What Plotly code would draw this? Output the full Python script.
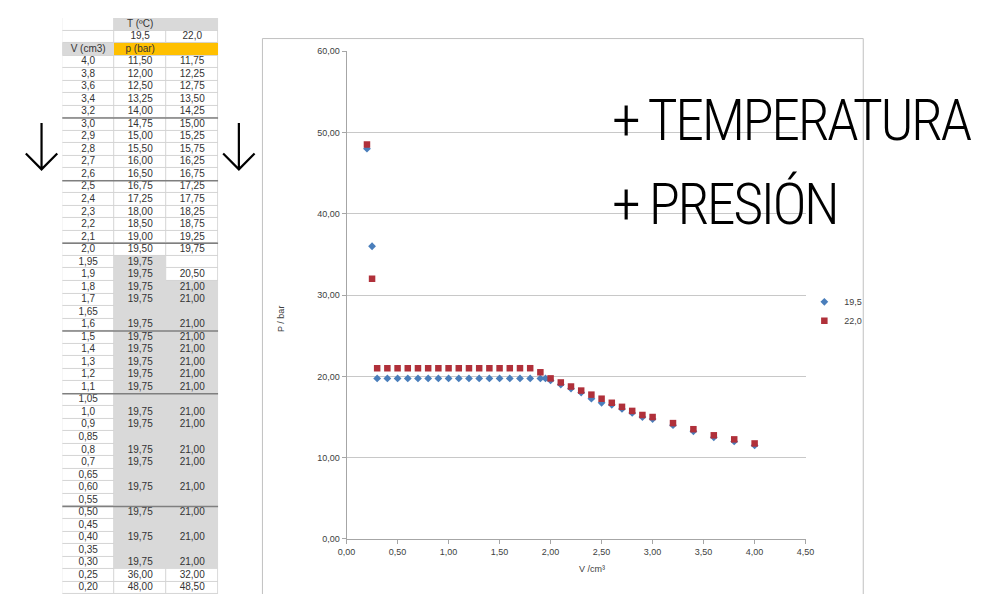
import plotly.graph_objects as go

W, H = 985, 594

# ---------------- data ----------------
V_labels = ["4,0", "3,8", "3,6", "3,4", "3,2", "3,0", "2,9", "2,8", "2,7", "2,6",
            "2,5", "2,4", "2,3", "2,2", "2,1", "2,0", "1,95", "1,9", "1,8", "1,7",
            "1,65", "1,6", "1,5", "1,4", "1,3", "1,2", "1,1", "1,05", "1,0", "0,9",
            "0,85", "0,8", "0,7", "0,65", "0,60", "0,55", "0,50", "0,45", "0,40", "0,35",
            "0,30", "0,25", "0,20"]
V = [float(s.replace(",", ".")) for s in V_labels]

temps = [19.5, 22.0]

p_195 = [11.50, 12.00, 12.50, 13.25, 14.00, 14.75, 15.00, 15.50, 16.00, 16.50,
         16.75, 17.25, 18.00, 18.50, 19.00, 19.50, 19.75, 19.75, 19.75, 19.75,
         None, 19.75, 19.75, 19.75, 19.75, 19.75, 19.75, None, 19.75, 19.75,
         None, 19.75, 19.75, None, 19.75, None, 19.75, None, 19.75, None,
         19.75, 36.00, 48.00]
p_220 = [11.75, 12.25, 12.75, 13.50, 14.25, 15.00, 15.25, 15.75, 16.25, 16.75,
         17.25, 17.75, 18.25, 18.75, 19.25, 19.75, None, 20.50, 21.00, 21.00,
         None, 21.00, 21.00, 21.00, 21.00, 21.00, 21.00, None, 21.00, 21.00,
         None, 21.00, 21.00, None, 21.00, None, 21.00, None, 21.00, None,
         21.00, 32.00, 48.50]

x_ticks = [0, 0.5, 1.0, 1.5, 2.0, 2.5, 3.0, 3.5, 4.0, 4.5]
y_ticks = [0, 10, 20, 30, 40, 50, 60]

headline = ["+ TEMPERATURA", "+ PRESIÓN"]

# table styling groups
gray_start = {1: "1,95", 2: "1,8"}
gray_end = "0,30"
group_starts = ["3,0", "2,5", "2,0", "1,5", "1,05", "0,50"]

# ---------------- colours / fonts ----------------
BLUE = "#4a7ebb"
RED = "#b0303a"
TXT = "#404040"
FONT = "Liberation Sans, Arial, sans-serif"
GRAY = "#d9d9d9"
YELLOW = "#ffc000"
LINE = "#d4d4d4"


def fmt(v, d=2):
    return "" if v is None else f"{v:.{d}f}".replace(".", ",")


# ---------------- table model ----------------
header_text = [["", "T (ºC)", ""],
               ["", fmt(temps[0], 1), fmt(temps[1], 1)],
               ["V (cm3)", "p (bar)", ""]]
header_fill = [[0, 1, 1], [0, 0, 0], [1, 2, 2]]
n_head = len(header_text)

end_idx = V_labels.index(gray_end)
text_rows = list(header_text)
fill_rows = list(header_fill)
for i, lab in enumerate(V_labels):
    text_rows.append([lab, fmt(p_195[i]), fmt(p_220[i])])
    row = [0]
    for c in (1, 2):
        s = V_labels.index(gray_start[c])
        row.append(1 if s <= i <= end_idx else 0)
    fill_rows.append(row)

R = len(text_rows)
bg_rows = [[3 if f == 0 else f for f in r] for r in fill_rows]
cs = [[0, "#ffffff"], [1 / 3, GRAY], [2 / 3, YELLOW], [1, LINE]]

row_c = [r + 0.5 for r in range(R)]
col_c = [0.5, 1.5, 2.5]

fig = go.Figure()

fig.add_trace(go.Heatmap(z=bg_rows, x=col_c, y=row_c, zmin=0, zmax=3, colorscale=cs,
                         showscale=False, hoverinfo="skip", xaxis="x2", yaxis="y2"))
fig.add_trace(go.Heatmap(z=fill_rows, x=col_c, y=row_c, zmin=0, zmax=3, colorscale=cs,
                         showscale=False, hoverinfo="skip", xgap=1, ygap=1,
                         xaxis="x2", yaxis="y2"))

tx, ty, tt = [], [], []
for r in range(R):
    for c in range(3):
        if text_rows[r][c]:
            tx.append(col_c[c])
            ty.append(row_c[r])
            tt.append(text_rows[r][c])
fig.add_trace(go.Scatter(x=tx, y=ty, text=tt, mode="text", textposition="middle center",
                         textfont=dict(family=FONT, size=10, color="#333333"),
                         hoverinfo="skip", showlegend=False, xaxis="x2", yaxis="y2"))

sx, sy = [], []
for g in group_starts:
    r = n_head + V_labels.index(g)
    sx += [0, 3, None]
    sy += [r, r, None]
fig.add_trace(go.Scatter(x=sx, y=sy, mode="lines", line=dict(color="#7f7f7f", width=1.5),
                         hoverinfo="skip", showlegend=False, xaxis="x2", yaxis="y2"))

# ---------------- chart ----------------
fig.add_trace(go.Scatter(x=V, y=p_195, mode="markers", name=fmt(temps[0], 1),
                         marker=dict(symbol="diamond", size=6, color=BLUE,
                                     line=dict(width=0))))
fig.add_trace(go.Scatter(x=V, y=p_220, mode="markers", name=fmt(temps[1], 1),
                         marker=dict(symbol="square", size=6.5, color=RED,
                                     line=dict(width=0))))


def px(x, y):
    return x / W, 1 - y / H


shapes = []
x0, y0 = px(250, 593)
x1, y1 = px(862, 26)
shapes.append(dict(type="rect", xref="paper", yref="paper", x0=x0, y0=y0, x1=x1, y1=y1,
                   line=dict(color="#c0c0c0", width=1), layer="below"))
for cx in (25, 226):
    a = px(cx, 112); b = px(cx, 159); l = px(cx - 16, 143); r_ = px(cx + 16, 143)
    path = (f"M {a[0]},{a[1]} L {b[0]},{b[1]} M {l[0]},{l[1]} L {b[0]},{b[1]} L {r_[0]},{r_[1]}")
    shapes.append(dict(type="path", xref="paper", yref="paper", path=path,
                       line=dict(color="black", width=2.2)))

annotations = []
big_font = dict(family="Roboto Condensed, Roboto, sans-serif", size=58, color="black",
                weight=300)
for txt, yc in zip(headline, (109, 194.5)):
    ax, ay = px(604, yc)
    annotations.append(dict(text=f'<span style="letter-spacing:-2.5px">{txt}</span>',
                            x=ax, y=ay, xref="paper", yref="paper",
                            xanchor="left", yanchor="middle", showarrow=False, font=big_font))

ax, ay = px(262, 311)
annotations.append(dict(text="P / bar", x=ax, y=ay, xref="paper", yref="paper", textangle=-90,
                        showarrow=False, font=dict(family=FONT, size=9, color=TXT)))
ax, ay = px(586, 573)
annotations.append(dict(text="V /cm³", x=ax, y=ay, xref="paper", yref="paper",
                        showarrow=False, font=dict(family=FONT, size=9, color=TXT)))

lx, ly = px(802, 279)
fig.update_layout(
    width=W, height=H, margin=dict(l=0, r=0, t=0, b=0),
    paper_bgcolor="white", plot_bgcolor="white",
    separators=",.",
    font=dict(family=FONT, size=9, color=TXT),
    showlegend=True,
    legend=dict(x=lx, y=ly, xanchor="left", yanchor="top", bgcolor="rgba(0,0,0,0)",
                font=dict(family=FONT, size=9, color=TXT), itemwidth=30),
    xaxis=dict(domain=[335.7 / W, 803.3 / W], range=[0, 4.5], tickvals=x_ticks,
               tickformat=".2f", showgrid=False, zeroline=False, showline=True,
               linecolor="#a6a6a6", linewidth=1, ticks="outside", ticklen=4,
               tickcolor="#a6a6a6", tickfont=dict(size=9, color=TXT), anchor="y"),
    yaxis=dict(domain=[1 - 535 / H, 1 - 38.7 / H], range=[0, 60], tickvals=y_ticks,
               tickformat=".2f", showgrid=True, gridcolor="#c8c8c8", zeroline=False,
               showline=True, linecolor="#a6a6a6", linewidth=1, ticks="outside",
               ticklen=4, tickcolor="#a6a6a6", tickfont=dict(size=9, color=TXT), anchor="x"),
    xaxis2=dict(domain=[46 / W, 205 / W], range=[0, 3], visible=False, anchor="y2"),
    yaxis2=dict(domain=[1 - 591 / H, 1 - 5 / H], range=[R, 0], visible=False,
                anchor="x2"),
    shapes=shapes,
    annotations=annotations,
)

fig.write_html("out.html")
